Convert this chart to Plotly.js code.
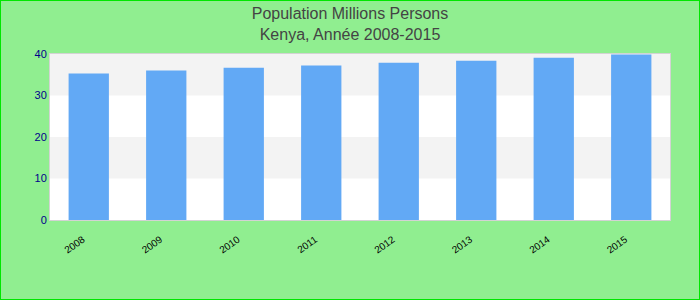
<!DOCTYPE html>
<html>
<head>
<meta charset="utf-8">
<script src="https://cdn.plot.ly/plotly-3.0.1.min.js"></script>
<style>
html,body{margin:0;padding:0;background:#90ee90;}
#chart{width:700px;height:300px;box-sizing:border-box;border:1px solid #00e600;}
</style>
</head>
<body>
<div id="chart"></div>
<script>
const years = ['2008','2009','2010','2011','2012','2013','2014','2015'];
const population = [35.3, 36.0, 36.7, 37.2, 37.9, 38.4, 39.1, 39.9];
const yTicks = [0, 10, 20, 30, 40];
const bandStarts = [10, 30];
const bandSize = 10;

const trace = {
  type: 'bar',
  x: years,
  y: population,
  marker: {color: '#62a9f5'},
  hoverinfo: 'x+y'
};

const shapes = bandStarts.map(b => ({
  type: 'rect', layer: 'below',
  xref: 'paper', yref: 'y',
  x0: 0, x1: 1, y0: b, y1: b + bandSize,
  fillcolor: '#f3f3f3', line: {width: 0}
}));

const layout = {
  width: 698, height: 298,
  paper_bgcolor: '#90ee90',
  plot_bgcolor: '#ffffff',
  margin: {l: 49, r: 29, t: 53, b: 79},
  font: {family: 'Liberation Sans, Arial, sans-serif'},
  title: {
    text: 'Population Millions Persons<br>Kenya, Année 2008-2015',
    font: {size: 16, color: '#444444'},
    x: 0.5, xanchor: 'center',
    y: 0.938, yanchor: 'middle', yref: 'container'
  },
  bargap: 0.48,
  showlegend: false,
  xaxis: {
    type: 'category',
    tickangle: -35,
    tickfont: {size: 10, color: '#000000'},
    ticklabelstandoff: 9,
    ticklabelshift: -6,
    showgrid: false,
    showline: true, linecolor: '#d3d3d3', linewidth: 1, mirror: true,
    ticks: ''
  },
  yaxis: {
    range: [0, 40],
    tickvals: yTicks,
    tickfont: {size: 11, color: '#00008b'},
    showgrid: false,
    zeroline: false,
    showline: true, linecolor: '#d3d3d3', linewidth: 1, mirror: true,
    ticks: ''
  },
  shapes: shapes
};

Plotly.newPlot('chart', [trace], layout, {displayModeBar: false, staticPlot: true});
</script>
</body>
</html>
